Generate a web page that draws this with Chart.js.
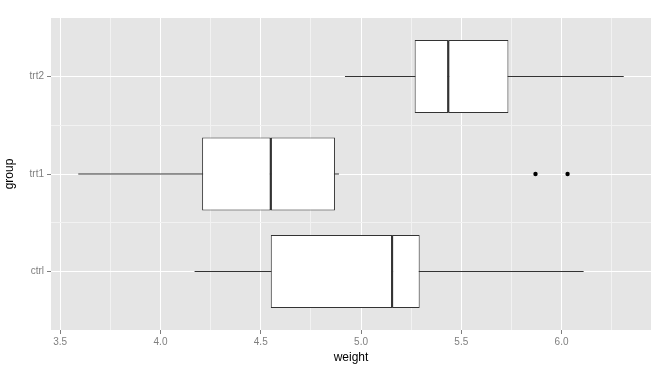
<!DOCTYPE html>
<html>
<head>
<meta charset="utf-8">
<script src="https://cdn.jsdelivr.net/npm/chart.js@4/dist/chart.umd.min.js"></script>
<style>
html,body{margin:0;padding:0;background:#fff;}
#wrap{width:671px;height:375px;}
</style>
</head>
<body>
<div id="wrap"><canvas id="c" width="671" height="375"></canvas></div>
<script>
// Data (PlantGrowth weights)
const groups = ['ctrl', 'trt1', 'trt2'];
const lowerWhisker = [4.17, 3.59, 4.92];
const q1 = [4.55, 4.2075, 5.2675];
const medians = [5.155, 4.55, 5.435];
const q3 = [5.2925, 4.87, 5.735];
const upperWhisker = [6.11, 4.89, 6.31];
const outlierGroup = ['trt1', 'trt1'];
const outlierValues = [5.87, 6.03];
const xTicks = [3.5, 4.0, 4.5, 5.0, 5.5, 6.0];

const pos = g => groups.indexOf(g) + 1;
const EDGE = '#333333';

const bgPlugin = {
  id: 'panelBg',
  beforeDraw(chart) {
    const {ctx, chartArea: a} = chart;
    ctx.save();
    ctx.fillStyle = '#E5E5E5';
    ctx.fillRect(a.left, a.top, a.right - a.left, a.bottom - a.top);
    ctx.restore();
  }
};

const whiskerSets = groups.map((g, i) => ({
  type: 'scatter',
  data: [{x: lowerWhisker[i], y: i + 1}, {x: upperWhisker[i], y: i + 1}],
  showLine: true,
  borderColor: EDGE,
  borderWidth: 1,
  pointRadius: 0,
  order: 5
}));

// box height = 0.75 of group spacing; ruler step is the 0.5 minor tick spacing, hence 1.5
const boxStyle = {
  type: 'bar',
  backgroundColor: '#FFFFFF',
  borderColor: EDGE,
  borderWidth: 1,
  borderSkipped: false,
  grouped: false,
  categoryPercentage: 1.5,
  barPercentage: 1,
  order: 2
};

const datasets = [
  ...whiskerSets,
  Object.assign({}, boxStyle, {data: groups.map((g, i) => ({x: [q1[i], medians[i]], y: i + 1}))}),
  Object.assign({}, boxStyle, {data: groups.map((g, i) => ({x: [medians[i], q3[i]], y: i + 1}))}),
  {
    // median bar: vertical line marker
    type: 'scatter',
    data: groups.map((g, i) => ({x: medians[i], y: i + 1})),
    pointStyle: 'line',
    rotation: 90,
    pointRadius: 36,
    borderColor: EDGE,
    borderWidth: 2,
    clip: false,
    order: 1
  },
  {
    type: 'scatter',
    data: outlierValues.map((v, i) => ({x: v, y: pos(outlierGroup[i])})),
    backgroundColor: '#000000',
    borderColor: '#000000',
    pointRadius: 2.2,
    borderWidth: 0,
    order: 0
  }
];

const isMajorX = v => xTicks.some(t => Math.abs(t - v) < 1e-9);
const tv = c => (c && c.tick) ? c.tick.value : NaN;

new Chart(document.getElementById('c'), {
  type: 'bar',
  data: {datasets},
  plugins: [bgPlugin],
  options: {
    indexAxis: 'y',
    responsive: false,
    animation: false,
    layout: {autoPadding: false, padding: {top: 18, right: 20, left: 0, bottom: 0}},
    plugins: {legend: {display: false}, tooltip: {enabled: false}},
    scales: {
      x: {
        type: 'linear',
        min: 3.454,
        max: 6.446,
        offset: false,
        afterBuildTicks(scale) {
          const t = [];
          for (let k = 0; k <= 11; k++) t.push({value: 3.5 + k * 0.25});
          scale.ticks = t;
        },
        afterFit(scale) { scale.height = 45; },
        border: {display: false},
        grid: {
          offset: false,
          color: c => isMajorX(tv(c)) ? '#FFFFFF' : '#F2F2F2',
          lineWidth: 1,
          tickColor: c => isMajorX(tv(c)) ? '#7F7F7F' : 'rgba(0,0,0,0)',
          tickLength: 4,
          drawTicks: true
        },
        ticks: {
          autoSkip: false,
          maxRotation: 0,
          padding: 2,
          color: '#7F7F7F',
          font: {family: 'Liberation Sans', size: 10},
          callback: v => isMajorX(v) ? Number(v).toFixed(1) : ''
        },
        title: {
          display: true,
          text: 'weight',
          color: '#000000',
          font: {family: 'Liberation Sans', size: 12},
          padding: {top: 0, bottom: 10}
        }
      },
      y: {
        type: 'linear',
        min: 0.4,
        max: 3.6,
        offset: false,
        afterBuildTicks(scale) {
          scale.ticks = [1, 1.5, 2, 2.5, 3].map(v => ({value: v}));
        },
        afterFit(scale) { scale.width = 51; },
        border: {display: false},
        grid: {
          offset: false,
          color: c => Number.isInteger(tv(c)) ? '#FFFFFF' : '#F2F2F2',
          lineWidth: 1,
          tickColor: c => Number.isInteger(tv(c)) ? '#7F7F7F' : 'rgba(0,0,0,0)',
          tickLength: 4
        },
        ticks: {
          autoSkip: false,
          padding: 3,
          color: '#7F7F7F',
          font: {family: 'Liberation Sans', size: 10},
          callback: v => Number.isInteger(v) ? groups[v - 1] : ''
        },
        title: {
          display: true,
          text: 'group',
          color: '#000000',
          font: {family: 'Liberation Sans', size: 12},
          padding: {top: 2, bottom: 0}
        }
      }
    }
  }
});
</script>
</body>
</html>
